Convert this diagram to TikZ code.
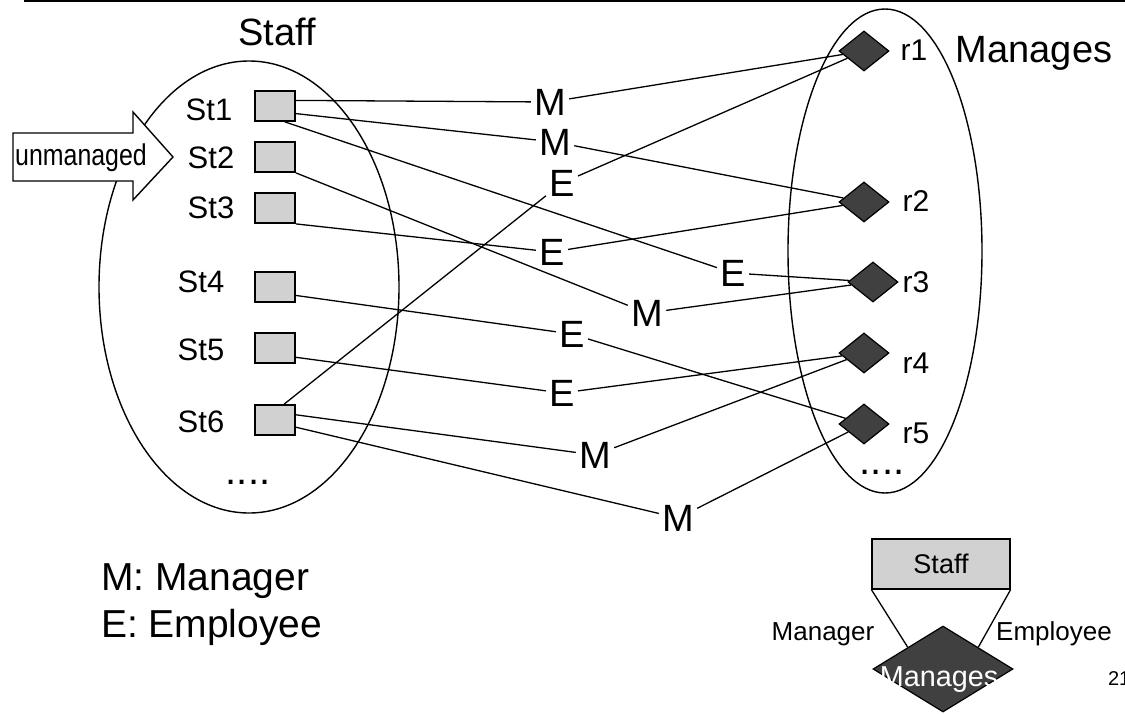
\documentclass[tikz,border=0pt]{standalone}
\usepackage{fontspec}
\setmainfont{Liberation Sans}
\newfontfamily\narrowfont[FakeStretch=0.83]{Liberation Sans}
\usetikzlibrary{shapes.geometric}

\begin{document}
\begin{tikzpicture}[x=0.5pt,y=-0.5pt,
    staffbox/.style={draw,line width=0.9pt,fill=black!18,minimum width=20pt,minimum height=15pt,inner sep=0pt},
    reldiam/.style={diamond,draw,line width=0.6pt,fill=black!75,minimum width=25pt,minimum height=20pt,inner sep=0pt},
    role/.style={font=\fontsize{19}{22}\selectfont,inner sep=1.5pt},
    conn/.style={line width=0.65pt},
    setline/.style={line width=0.7pt}]
    \useasboundingbox (0,0) rectangle (1125,713);
    \draw[line width=1pt] (24,1) -- (1125,1);

    % the two entity sets
    \draw[setline] (249,287) ellipse [x radius=150, y radius=226];
    \draw[setline] (885,251) ellipse [x radius=97, y radius=242];
    \node[anchor=base,font=\fontsize{19}{22}\selectfont] (stafftitle) at (277,45) {Staff};
    \node[anchor=base,font=\fontsize{19}{22}\selectfont] (mgtitle) at (1034,62) {Manages};

    \draw[line width=0.7pt,fill=white] (13,133) -- (133,133) -- (133,112) -- (173,157)
      -- (133,200) -- (133,181) -- (13,181) -- cycle;
    \node[anchor=base,font=\narrowfont\fontsize{15}{18}\selectfont] (unm) at (81,165) {unmanaged};

    \foreach \i/\y in {1/106,2/157,3/208,4/287,5/348,6/420}{
      \node[staffbox] (st\i) at (275,\y) {};
    }
    \foreach \i/\x/\y in {1/209/120,2/211/168,3/211/218,4/201/292,5/201/360,6/201/432}{
      \node[anchor=base,font=\fontsize{15.5}{18}\selectfont] (lst\i) at (\x,\y) {St\i};
    }
    \node[anchor=base,font=\fontsize{20}{22}\selectfont] (stdots) at (248,484) {....};

    \foreach \i/\x/\y in {1/864/51,2/864/202,3/873/282,4/864/353,5/864/424}{
      \node[reldiam] (r\i) at (\x,\y) {};
    }
    \foreach \i/\x/\y in {1/914/60,2/916/211,3/916/292,4/916/373,5/916/443}{
      \node[anchor=base,font=\fontsize{15}{18}\selectfont] (lr\i) at (\x,\y) {r\i};
    }
    \node[anchor=base,font=\fontsize{20}{22}\selectfont] (rdots) at (882,474) {....};

    % role names on each pair
    \foreach \n/\t/\x/\y in {m1/M/550/102,m2/M/555/142,e1/E/562/183,e2/E/552/252,e3/E/733/273,
        m3/M/647/313,e4/E/572/334,e5/E/562/393,m4/M/595/455,m5/M/678/518}{
      \node[role] (\n) at (\x,\y) {\t};
    }
    \draw[conn] (st1.15) -- (m1) -- (r1);
    \draw[conn] (st1.-20) -- (m2) -- (r2);
    \draw[conn] (st1.-58) -- (e3) -- (r3);
    \draw[conn] (st2.south east) -- (m3) -- (r3);
    \draw[conn] (st3.south east) -- (e2) -- (r2);
    \draw[conn] (st4.-22) -- (e4) -- (r5);
    \draw[conn] (st5.-24) -- (e5) -- (r4);
    \draw[conn] (st6.60) -- (e1) -- (r1);
    \draw[conn] (st6.14) -- (m4) -- (r4);
    \draw[conn] (st6.-19) -- (m5) -- (r5);

    \node[anchor=base west,font=\fontsize{19.5}{22}\selectfont] (lgm) at (94,590) {M: Manager};
    \node[anchor=base west,font=\fontsize{19.5}{22}\selectfont] (lge) at (94,637) {E: Employee};

    % small ER view
    \node[draw,line width=0.6pt,fill=black!18,minimum width=69pt,minimum height=25pt,inner sep=0pt,
      font=\fontsize{13.5}{16}\selectfont] (ers) at (941,564) {Staff};
    \node[diamond,draw,line width=0.6pt,fill=black!75,minimum width=70pt,minimum height=43pt,
      inner sep=0pt] (erd) at (943,669) {};
    \node[anchor=base,text=white,font=\fontsize{14.4}{16}\selectfont] (erdtext) at (939,686) {Manages};
    \draw[conn] (ers.south west) -- (erd.north west);
    \draw[conn] (ers.south east) -- (erd.north east);
    \node[anchor=base,font=\fontsize{13}{16}\selectfont] (mgr) at (823,640) {Manager};
    \node[anchor=base,font=\fontsize{13}{16}\selectfont] (emp) at (1054,640) {Employee};
    \node[anchor=base west,font=\fontsize{10}{12}\selectfont] (pgno) at (1101,685) {21};
  \end{tikzpicture}
\end{document}
